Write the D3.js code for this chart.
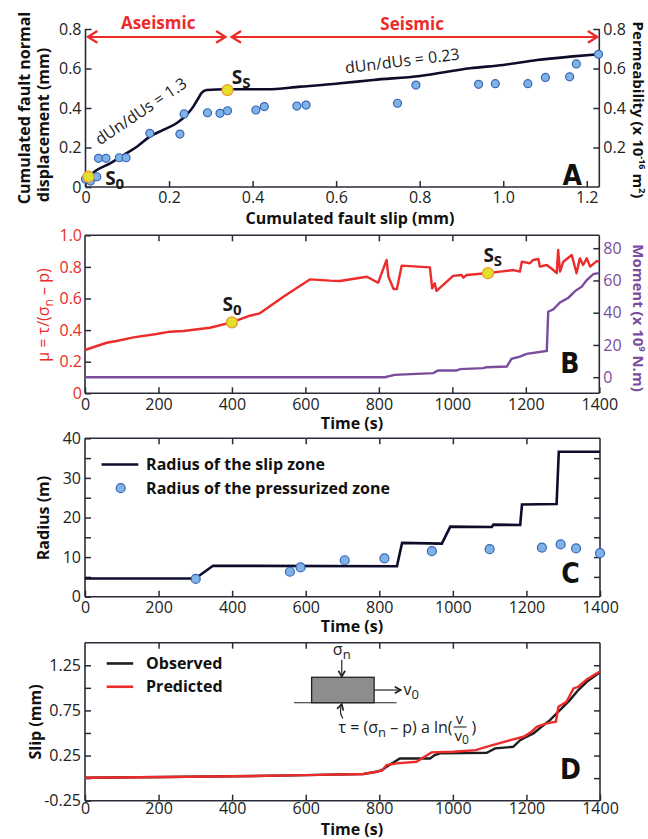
<!DOCTYPE html>
<html>
<head>
<meta charset="utf-8" />
<title>Fault slip</title>
<script src="https://d3js.org/d3.v7.min.js"></script>
<style>
  body { margin: 0; background: #fff; }
  svg text { font-family: "Open Sans", "Noto Sans", sans-serif; }
  .tick text { font-size: 16px; fill: #222; }
  .lab { font-size: 16px; font-weight: bold; fill: #111; }
  .letter { font-family: "Liberation Sans Narrow", "DejaVu Sans Condensed", sans-serif !important; font-size: 28px; font-weight: bold; fill: #111; }
</style>
</head>
<body>
<svg width="648" height="839"></svg>
<script>
// ---- Panel A data (mm) ----
var curveSlip = [0.001, 0.027, 0.059, 0.091, 0.123, 0.154, 0.186, 0.218, 0.242, 0.258, 0.270, 0.278, 0.290, 0.338, 0.434, 0.514, 0.586, 0.610, 0.689, 0.801, 0.921, 1.0, 1.081, 1.16, 1.228];
var curveNormal = [0.044, 0.086, 0.120, 0.162, 0.204, 0.255, 0.289, 0.323, 0.365, 0.407, 0.449, 0.477, 0.491, 0.495, 0.495, 0.508, 0.52, 0.525, 0.542, 0.562, 0.601, 0.618, 0.643, 0.66, 0.672];
var permSlip = [0.0, 0.012, 0.027, 0.031, 0.049, 0.081, 0.097, 0.154, 0.226, 0.236, 0.292, 0.322, 0.340, 0.408, 0.428, 0.506, 0.528, 0.747, 0.791, 0.941, 0.981, 1.059, 1.101, 1.159, 1.175, 1.228];
var permValue = [0.04, 0.03, 0.052, 0.145, 0.145, 0.148, 0.148, 0.272, 0.268, 0.370, 0.376, 0.373, 0.386, 0.390, 0.407, 0.410, 0.415, 0.424, 0.516, 0.520, 0.523, 0.523, 0.555, 0.558, 0.623, 0.672];
var keyPointsA = [[0.007, 0.052], [0.34, 0.491]];

// ---- Panel B data ----
var muTime = [0, 59, 86, 132, 195, 231, 268, 340, 399, 449, 476, 540, 612, 667, 694, 767, 798, 821, 826, 840, 849, 862, 939, 945, 952, 957, 1002, 1025, 1030, 1039, 1093, 1130, 1166, 1184, 1189, 1211, 1220, 1234, 1238, 1257, 1275, 1284, 1288, 1293, 1302, 1325, 1338, 1347, 1356, 1366, 1375, 1393, 1400];
var muValue = [0.274, 0.32, 0.331, 0.354, 0.375, 0.39, 0.394, 0.415, 0.449, 0.491, 0.506, 0.611, 0.721, 0.713, 0.711, 0.738, 0.700, 0.844, 0.738, 0.66, 0.66, 0.808, 0.797, 0.664, 0.696, 0.648, 0.743, 0.749, 0.732, 0.749, 0.76, 0.77, 0.78, 0.77, 0.833, 0.823, 0.844, 0.85, 0.802, 0.812, 0.78, 0.76, 0.907, 0.77, 0.833, 0.875, 0.76, 0.854, 0.812, 0.854, 0.802, 0.837, 0.833];
var momentTime = [0, 816, 843, 948, 961, 1011, 1021, 1084, 1093, 1148, 1161, 1184, 1202, 1257, 1261, 1275, 1293, 1316, 1334, 1352, 1366, 1384, 1393, 1400];
var momentValue = [0, 0, 1.4, 2.5, 4.1, 4.1, 5.0, 5.6, 6.2, 6.6, 11.4, 12.8, 14.5, 16.3, 40.6, 42.1, 46.4, 49.3, 53.4, 56.1, 60.2, 64.0, 64.4, 64.4];
var keyPointsB = [[400, 0.449], [1097, 0.76]];

// ---- Panel C data ----
var slipZoneTime = [0, 300, 348, 848, 862, 970, 993, 1106, 1110, 1183, 1188, 1282, 1288, 1400];
var slipZoneRadius = [4.6, 4.6, 7.8, 7.7, 13.6, 13.4, 17.7, 17.6, 18.2, 18.1, 23.3, 23.4, 36.6, 36.6];
var pressTime = [301, 557, 586, 706, 814, 943, 1100, 1242, 1293, 1335, 1400];
var pressRadius = [4.5, 6.3, 7.4, 9.2, 9.7, 11.5, 12.0, 12.4, 13.2, 12.2, 11.0];

// ---- Panel D data ----
var obsTime = [0, 220, 400, 600, 757, 793, 807, 820, 856, 938, 951, 965, 1092, 1115, 1164, 1183, 1201, 1219, 1241, 1264, 1291, 1318, 1341, 1364, 1398];
var obsSlip = [0.005, 0.012, 0.02, 0.033, 0.046, 0.071, 0.089, 0.126, 0.218, 0.218, 0.255, 0.274, 0.281, 0.329, 0.347, 0.421, 0.458, 0.495, 0.569, 0.643, 0.754, 0.864, 0.975, 1.067, 1.167];
var predTime = [0, 220, 400, 600, 757, 807, 820, 847, 901, 942, 1001, 1062, 1098, 1164, 1192, 1214, 1228, 1241, 1255, 1280, 1287, 1309, 1328, 1341, 1364, 1398];
var predSlip = [0.005, 0.012, 0.02, 0.033, 0.046, 0.082, 0.145, 0.163, 0.181, 0.285, 0.292, 0.31, 0.355, 0.429, 0.458, 0.514, 0.569, 0.588, 0.606, 0.625, 0.791, 0.846, 0.993, 1.012, 1.093, 1.178];

// tick values
var ticksA_x = [0, 0.2, 0.4, 0.6, 0.8, 1.0, 1.2];
var ticksA_y = [0, 0.2, 0.4, 0.6, 0.8];
var ticksA_r = [0.2, 0.4, 0.6, 0.8];
var ticksTime = [0, 200, 400, 600, 800, 1000, 1200, 1400];
var ticksMu = [0, 0.2, 0.4, 0.6, 0.8, 1.0];
var ticksMoment = [0, 20, 40, 60, 80];
var ticksRadius = [0, 5, 10, 15, 20, 25, 30, 35, 40];
var ticksSlip = [-0.25, 0, 0.25, 0.5, 0.75, 1.0, 1.25];
var slipLabels = ["-0.25", "", "0.25", "", "0.75", "", "1.25"];

var svg = d3.select("svg");
var axisCol = "#2b2b38", navy = "#0d0d2b", red = "#ec2b2b", purple = "#7a4c9e";
var blueFill = "#7fb2e5", blueStroke = "#3766b8";

var defs = svg.append("defs");
function marker(id, col, path, w) {
  defs.append("marker").attr("id", id).attr("viewBox", "-10 -6 12 12")
    .attr("markerWidth", w).attr("markerHeight", w).attr("refX", 0).attr("refY", 0)
    .attr("orient", "auto-start-reverse").attr("markerUnits", "userSpaceOnUse")
    .append("path").attr("d", path).attr("fill", "none").attr("stroke", col).attr("stroke-width", 2);
}
marker("redArrow", red, "M-8,-5 L0,0 L-8,5", 14);
marker("blkArrow", "#222", "M-7,-4 L0,0 L-7,4", 10);

function zip(a, b) { return a.map(function (v, i) { return [v, b[i]]; }); }

function styleAxis(g, col) {
  g.select(".domain").remove();
  g.selectAll(".tick line").attr("stroke", axisCol).attr("stroke-width", 1.5);
  if (col) g.selectAll(".tick text").style("fill", col);
}

function box(x, y, sides) {
  var x0 = x.range()[0], x1 = x.range()[1], y0 = y.range()[0], y1 = y.range()[1];
  var segs = { b: [x0, y0, x1, y0], t: [x0, y1, x1, y1], l: [x0, y0, x0, y1], r: [x1, y0, x1, y1] };
  sides.split("").forEach(function (s) {
    var c = segs[s];
    svg.append("line").attr("x1", c[0]).attr("y1", c[1]).attr("x2", c[2]).attr("y2", c[3])
      .attr("stroke", axisCol).attr("stroke-width", 1.6);
  });
}

function dec1(d) { return d === 0 ? "0" : d3.format(".1f")(d); }

// ===================== Panel A =====================
var xA = d3.scaleLinear().domain([0, 1.23]).range([85.5, 599.3]);
var yA = d3.scaleLinear().domain([0, 0.8]).range([187, 29]);

svg.append("g").attr("transform", "translate(0," + yA(0) + ")")
  .call(d3.axisBottom(xA).tickValues(ticksA_x).tickSizeInner(-6).tickSizeOuter(0).tickPadding(5).tickFormat(dec1))
  .call(styleAxis);
svg.append("g").attr("transform", "translate(" + xA(0) + ",0)")
  .call(d3.axisLeft(yA).tickValues(ticksA_y).tickSizeInner(-6).tickSizeOuter(0).tickPadding(4).tickFormat(dec1))
  .call(styleAxis);
svg.append("g").attr("transform", "translate(" + xA(1.23) + ",0)")
  .call(d3.axisRight(yA).tickValues(ticksA_r).tickSizeInner(-6).tickSizeOuter(0).tickPadding(4).tickFormat(dec1))
  .call(styleAxis);
box(xA, yA, "blr");

// aseismic / seismic arrows
svg.append("line").attr("x1", xA(0.006)).attr("x2", xA(0.335)).attr("y1", yA(0.76)).attr("y2", yA(0.76))
  .attr("stroke", red).attr("stroke-width", 2).attr("marker-start", "url(#redArrow)").attr("marker-end", "url(#redArrow)");
svg.append("line").attr("x1", xA(0.35)).attr("x2", xA(1.225)).attr("y1", yA(0.76)).attr("y2", yA(0.76))
  .attr("stroke", red).attr("stroke-width", 2).attr("marker-start", "url(#redArrow)").attr("marker-end", "url(#redArrow)");
svg.append("text").attr("x", xA(0.174)).attr("y", yA(0.83)).attr("dy", "0.35em").attr("text-anchor", "middle")
  .attr("class", "lab").style("fill", red).style("font-size", "17px").text("Aseismic");
svg.append("text").attr("x", xA(0.782)).attr("y", yA(0.825)).attr("dy", "0.35em").attr("text-anchor", "middle")
  .attr("class", "lab").style("fill", red).style("font-size", "17px").text("Seismic");

svg.append("path").datum(zip(curveSlip, curveNormal))
  .attr("d", d3.line().x(function (d) { return xA(d[0]); }).y(function (d) { return yA(d[1]); }).curve(d3.curveMonotoneX))
  .attr("fill", "none").attr("stroke", navy).attr("stroke-width", 2.6);

svg.selectAll(".perm").data(zip(permSlip, permValue)).enter().append("circle")
  .attr("cx", function (d) { return xA(d[0]); }).attr("cy", function (d) { return yA(d[1]); })
  .attr("r", 4).attr("fill", blueFill).attr("stroke", blueStroke).attr("stroke-width", 1.2);
svg.selectAll(".keyA").data(keyPointsA).enter().append("circle")
  .attr("cx", function (d) { return xA(d[0]); }).attr("cy", function (d) { return yA(d[1]); })
  .attr("r", 5.5).attr("fill", "#e1e02a").attr("stroke", "#f09a35").attr("stroke-width", 1.3);

function sLabel(x, y, sub, anchor) {
  var t = svg.append("text").attr("x", x).attr("y", y).attr("text-anchor", anchor || "start")
    .style("font-size", "19px").style("font-weight", "bold").style("fill", "#1a1a1a");
  t.append("tspan").text("S");
  t.append("tspan").attr("dy", 4).style("font-size", "15px").text(sub);
}
sLabel(xA(0.047), yA(0.01), "0");
sLabel(xA(0.35), yA(0.52), "S");

svg.append("text").attr("transform", "translate(" + xA(0.14) + "," + yA(0.36) + ") rotate(-34)")
  .attr("text-anchor", "middle").style("font-size", "16px").style("fill", "#1a1a1a").text("dUn/dUs = 1.3");
svg.append("text").attr("transform", "translate(" + xA(0.76) + "," + yA(0.61) + ") rotate(-7)")
  .attr("text-anchor", "middle").style("font-size", "16px").style("fill", "#1a1a1a").text("dUn/dUs = 0.23");

svg.append("text").attr("class", "lab").attr("x", 350).attr("y", 218).attr("dy", "0.35em").attr("text-anchor", "middle")
  .text("Cumulated fault slip (mm)");
svg.append("text").attr("class", "lab").attr("transform", "translate(24,108) rotate(-90)").attr("text-anchor", "middle")
  .attr("dy", "0.35em").text("Cumulated fault normal");
svg.append("text").attr("class", "lab").attr("transform", "translate(43,125) rotate(-90)").attr("text-anchor", "middle")
  .attr("dy", "0.35em").text("displacement (mm)");
var perm = svg.append("text").attr("class", "lab").attr("transform", "translate(638,110) rotate(90)")
  .attr("text-anchor", "middle").attr("dy", "0.35em").style("font-size", "15px");
perm.append("tspan").text("Permeability (x 10");
perm.append("tspan").attr("dy", -6).style("font-size", "9px").text("-16");
perm.append("tspan").attr("dy", 6).text(" m");
perm.append("tspan").attr("dy", -6).style("font-size", "9px").text("2");
perm.append("tspan").attr("dy", 6).text(")");
svg.append("text").attr("class", "letter").attr("x", xA(1.165)).attr("y", yA(0.0)).attr("dy", -2)
  .attr("text-anchor", "middle").text("A");

// ===================== Panel B =====================
var xB = d3.scaleLinear().domain([0, 1400]).range([85, 599.3]);
var yB = d3.scaleLinear().domain([0, 1]).range([393.3, 235.3]);
var yM = d3.scaleLinear().domain([-10, 88]).range([393.3, 235.3]);

function timeAxes(x, y, pad) {
  svg.append("g").attr("transform", "translate(0," + y.range()[0] + ")")
    .call(d3.axisBottom(x).tickValues(ticksTime).tickSizeInner(-6).tickSizeOuter(0).tickPadding(pad || 5).tickFormat(d3.format("d")))
    .call(styleAxis);
  svg.append("g").attr("transform", "translate(0," + y.range()[1] + ")")
    .call(d3.axisTop(x).tickValues(ticksTime.slice(1, -1)).tickSizeInner(-6).tickSizeOuter(0).tickFormat(""))
    .call(styleAxis);
}
timeAxes(xB, yB);
svg.append("g").attr("transform", "translate(" + xB(0) + ",0)")
  .call(d3.axisLeft(yB).tickValues(ticksMu).tickSizeInner(-6).tickSizeOuter(0).tickPadding(3).tickFormat(dec1))
  .call(styleAxis, red);
svg.append("g").attr("transform", "translate(" + xB(1400) + ",0)")
  .call(d3.axisRight(yM).tickValues(ticksMoment).tickSizeInner(-6).tickSizeOuter(0).tickPadding(4).tickFormat(d3.format("d")))
  .call(styleAxis, purple);
box(xB, yB, "btlr");

svg.append("path").datum(zip(momentTime, momentValue))
  .attr("d", d3.line().x(function (d) { return xB(d[0]); }).y(function (d) { return yM(d[1]); }))
  .attr("fill", "none").attr("stroke", purple).attr("stroke-width", 2.4);
svg.append("path").datum(zip(muTime, muValue))
  .attr("d", d3.line().x(function (d) { return xB(d[0]); }).y(function (d) { return yB(d[1]); }))
  .attr("fill", "none").attr("stroke", red).attr("stroke-width", 2.4).attr("stroke-linejoin", "round");
svg.selectAll(".keyB").data(keyPointsB).enter().append("circle")
  .attr("cx", function (d) { return xB(d[0]); }).attr("cy", function (d) { return yB(d[1]); })
  .attr("r", 5.5).attr("fill", "#e1e02a").attr("stroke", "#f09a35").attr("stroke-width", 1.3);
sLabel(xB(400), yB(0.52), "0", "middle");
sLabel(xB(1110), yB(0.83), "S", "middle");

var muLab = svg.append("text").attr("transform", "translate(43,315) rotate(-90)").attr("text-anchor", "middle")
  .attr("dy", "0.35em").style("font-size", "16px").style("fill", red);
muLab.append("tspan").text("\u03bc = \u03c4/(\u03c3");
muLab.append("tspan").attr("dy", 4).style("font-size", "12px").text("n");
muLab.append("tspan").attr("dy", -4).text(" \u2013 p)");
var mom = svg.append("text").attr("class", "lab").attr("transform", "translate(638,318) rotate(90)")
  .attr("text-anchor", "middle").attr("dy", "0.35em").style("fill", purple).style("font-size", "15px");
mom.append("tspan").text("Moment (x 10");
mom.append("tspan").attr("dy", -6).style("font-size", "9px").text("9");
mom.append("tspan").attr("dy", 6).text(" N.m)");
svg.append("text").attr("class", "lab").attr("x", 352).attr("y", 423).attr("dy", "0.35em").attr("text-anchor", "middle").text("Time (s)");
svg.append("text").attr("class", "letter").attr("x", xB(1320)).attr("y", yB(0)).attr("dy", -20)
  .attr("text-anchor", "middle").text("B");

// ===================== Panel C =====================
var xC = d3.scaleLinear().domain([0, 1400]).range([85, 600]);
var yC = d3.scaleLinear().domain([0, 40]).range([596.7, 438.3]);
timeAxes(xC, yC);
svg.append("g").attr("transform", "translate(" + xC(0) + ",0)")
  .call(d3.axisLeft(yC).tickValues(ticksRadius).tickSizeInner(-6).tickSizeOuter(0).tickPadding(4)
    .tickFormat(function (d) { return d % 10 === 0 ? d : ""; }))
  .call(styleAxis);
svg.append("g").attr("transform", "translate(" + xC(1400) + ",0)")
  .call(d3.axisRight(yC).tickValues(ticksRadius.slice(1, -1)).tickSizeInner(-6).tickSizeOuter(0).tickFormat(""))
  .call(styleAxis);
box(xC, yC, "btlr");

svg.append("path").datum(zip(slipZoneTime, slipZoneRadius))
  .attr("d", d3.line().x(function (d) { return xC(d[0]); }).y(function (d) { return yC(d[1]); }))
  .attr("fill", "none").attr("stroke", navy).attr("stroke-width", 2.6);
svg.selectAll(".press").data(zip(pressTime, pressRadius)).enter().append("circle")
  .attr("cx", function (d) { return xC(d[0]); }).attr("cy", function (d) { return yC(d[1]); })
  .attr("r", 4.5).attr("fill", blueFill).attr("stroke", blueStroke).attr("stroke-width", 1.2);

// legend C
svg.append("line").attr("x1", xC(45)).attr("x2", xC(145)).attr("y1", yC(33.4)).attr("y2", yC(33.4))
  .attr("stroke", navy).attr("stroke-width", 2.6);
svg.append("text").attr("class", "lab").attr("x", xC(166)).attr("y", yC(33.4)).attr("dy", "0.35em").text("Radius of the slip zone");
svg.append("circle").attr("cx", xC(97)).attr("cy", yC(27.4)).attr("r", 4.5)
  .attr("fill", blueFill).attr("stroke", blueStroke).attr("stroke-width", 1.2);
svg.append("text").attr("class", "lab").attr("x", xC(166)).attr("y", yC(27.4)).attr("dy", "0.35em").text("Radius of the pressurized zone");

svg.append("text").attr("class", "lab").attr("transform", "translate(43,518) rotate(-90)").attr("text-anchor", "middle")
  .attr("dy", "0.35em").text("Radius (m)");
svg.append("text").attr("class", "lab").attr("x", 352).attr("y", 626).attr("dy", "0.35em").attr("text-anchor", "middle").text("Time (s)");
svg.append("text").attr("class", "letter").attr("x", xC(1320)).attr("y", yC(0)).attr("dy", -14)
  .attr("text-anchor", "middle").text("C");

// ===================== Panel D =====================
var xD = d3.scaleLinear().domain([0, 1400]).range([85, 600]);
var yD = d3.scaleLinear().domain([-0.25, 1.5]).range([800.7, 642.7]);
timeAxes(xD, yD, 2);
svg.append("g").attr("transform", "translate(" + xD(0) + ",0)")
  .call(d3.axisLeft(yD).tickValues(ticksSlip).tickSizeInner(-6).tickSizeOuter(0).tickPadding(4)
    .tickFormat(function (d, i) { return slipLabels[i]; }))
  .call(styleAxis);
svg.append("g").attr("transform", "translate(" + xD(1400) + ",0)")
  .call(d3.axisRight(yD).tickValues(ticksSlip.slice(1)).tickSizeInner(-6).tickSizeOuter(0).tickFormat(""))
  .call(styleAxis);
box(xD, yD, "btlr");

svg.append("path").datum(zip(obsTime, obsSlip))
  .attr("d", d3.line().x(function (d) { return xD(d[0]); }).y(function (d) { return yD(d[1]); }))
  .attr("fill", "none").attr("stroke", "#1e1e1e").attr("stroke-width", 2.4);
svg.append("path").datum(zip(predTime, predSlip))
  .attr("d", d3.line().x(function (d) { return xD(d[0]); }).y(function (d) { return yD(d[1]); }))
  .attr("fill", "none").attr("stroke", red).attr("stroke-width", 2.4);

// legend D
svg.append("line").attr("x1", xD(59)).attr("x2", xD(131)).attr("y1", yD(1.27)).attr("y2", yD(1.27))
  .attr("stroke", "#1e1e1e").attr("stroke-width", 2.6);
svg.append("text").attr("class", "lab").attr("x", xD(166)).attr("y", yD(1.27)).attr("dy", "0.35em").text("Observed");
svg.append("line").attr("x1", xD(59)).attr("x2", xD(131)).attr("y1", yD(1.012)).attr("y2", yD(1.012))
  .attr("stroke", red).attr("stroke-width", 2.6);
svg.append("text").attr("class", "lab").attr("x", xD(166)).attr("y", yD(1.012)).attr("dy", "0.35em").text("Predicted");

// inset sketch
svg.append("line").attr("x1", xD(568)).attr("x2", xD(847)).attr("y1", yD(0.835)).attr("y2", yD(0.835))
  .attr("stroke", "#222").attr("stroke-width", 1.2);
svg.append("rect").attr("x", xD(616)).attr("y", yD(1.117)).attr("width", xD(786) - xD(616)).attr("height", yD(0.835) - yD(1.117))
  .attr("fill", "#8d8d8d").attr("stroke", "#222").attr("stroke-width", 1.3);
svg.append("line").attr("x1", xD(698)).attr("x2", xD(698)).attr("y1", yD(1.31)).attr("y2", yD(1.125))
  .attr("stroke", "#222").attr("stroke-width", 1.2).attr("marker-end", "url(#blkArrow)");
svg.append("line").attr("x1", xD(786)).attr("x2", xD(858)).attr("y1", yD(0.976)).attr("y2", yD(0.976))
  .attr("stroke", "#222").attr("stroke-width", 1.2).attr("marker-end", "url(#blkArrow)");
svg.append("path").attr("d", d3.line().curve(d3.curveBasis)([[xD(701), yD(0.66)], [xD(692), yD(0.73)], [xD(698), yD(0.82)]]))
  .attr("fill", "none").attr("stroke", "#222").attr("stroke-width", 1.2).attr("marker-end", "url(#blkArrow)");
var sig = svg.append("text").attr("x", xD(698)).attr("y", yD(1.36)).attr("text-anchor", "middle").style("font-size", "16px").style("fill", "#222");
sig.append("tspan").text("\u03c3");
sig.append("tspan").attr("dy", 4).style("font-size", "13px").text("n");
var v0 = svg.append("text").attr("x", xD(866)).attr("y", yD(0.92)).style("font-size", "16px").style("fill", "#222");
v0.append("tspan").text("v");
v0.append("tspan").attr("dy", 4).style("font-size", "13px").text("0");
var law = svg.append("text").attr("x", xD(689)).attr("y", yD(0.5)).style("font-size", "16px").style("fill", "#222");
law.append("tspan").text("\u03c4 = (\u03c3");
law.append("tspan").attr("dy", 4).style("font-size", "13px").text("n");
law.append("tspan").attr("dy", -4).text(" \u2013 p) a ln(");
var lawEnd = xD(689) + law.node().getComputedTextLength();
svg.append("text").attr("x", lawEnd + 7).attr("y", yD(0.5) - 9).attr("text-anchor", "middle").style("font-size", "15px").style("fill", "#222").text("v");
svg.append("line").attr("x1", lawEnd + 1).attr("x2", lawEnd + 14).attr("y1", yD(0.5) - 6).attr("y2", yD(0.5) - 6).attr("stroke", "#222").attr("stroke-width", 1.1);
var vb = svg.append("text").attr("x", lawEnd + 2).attr("y", yD(0.5) + 8).style("font-size", "15px").style("fill", "#222");
vb.append("tspan").text("v");
vb.append("tspan").attr("dy", 3).style("font-size", "12px").text("0");
svg.append("text").attr("x", lawEnd + 19).attr("y", yD(0.5)).style("font-size", "16px").style("fill", "#222").text(")");

svg.append("text").attr("class", "lab").attr("transform", "translate(35,722) rotate(-90)").attr("text-anchor", "middle")
  .attr("dy", "0.35em").text("Slip (mm)");
svg.append("text").attr("class", "lab").attr("x", 352).attr("y", 829).attr("dy", "0.35em").attr("text-anchor", "middle").text("Time (s)");
svg.append("text").attr("class", "letter").attr("x", xD(1320)).attr("y", yD(-0.25)).attr("dy", -22)
  .attr("text-anchor", "middle").text("D");
</script>
</body>
</html>
